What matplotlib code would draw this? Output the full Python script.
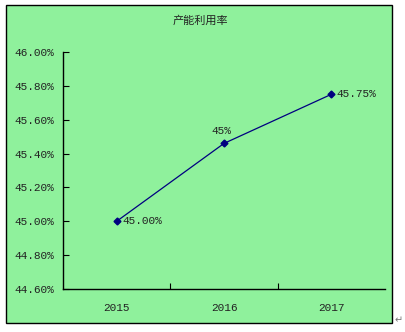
import matplotlib.pyplot as plt
from matplotlib.patches import Rectangle
from matplotlib.ticker import FuncFormatter

plt.rcParams['font.family'] = ['Liberation Mono', 'Noto Sans CJK SC', 'DejaVu Sans']

years = ['2015', '2016', '2017']
rates = [45.00, 45.46, 45.75]
labels = ['45.00%', '45%', '45.75%']
title = '产能利用率'

bg = '#8ff19c'
line_col = '#000080'
txt = '#222222'

fig = plt.figure(figsize=(4.06, 3.32), dpi=100)
fig.patch.set_facecolor('white')

# outer chart box, drawn on a background axes
bax = fig.add_axes([0, 0, 1, 1], zorder=-1)
bax.set_xlim(0, 406)
bax.set_ylim(332, 0)
bax.axis('off')
bax.add_patch(Rectangle((6, 5), 386, 318, facecolor=bg, edgecolor='black', lw=1.0))
# paragraph mark after the chart
bax.text(399, 320, '↵', ha='center', va='center', fontsize=7, color='#777777',
         family=['DejaVu Sans'])

ax = fig.add_axes([63 / 406, 1 - 289 / 332, 322 / 406, 237 / 332])
ax.patch.set_alpha(0)

x = range(len(years))
ax.plot(x, rates, color=line_col, lw=0.9, marker='D', ms=3.5, mfc=line_col, mec=line_col)

ax.set_xlim(-0.5, 2.5)
ax.set_ylim(44.6, 46.0)
ax.set_yticks([44.6, 44.8, 45.0, 45.2, 45.4, 45.6, 45.8, 46.0])
ax.yaxis.set_major_formatter(FuncFormatter(lambda v, p: f'{v:.2f}%'))
ax.set_xticks([0.5, 1.5])
ax.set_xticklabels([])
ax.set_xticks(list(x), minor=True)
ax.set_xticklabels(years, minor=True)
ax.tick_params(axis='x', which='minor', length=0, pad=10, labelsize=8, labelcolor=txt)
ax.tick_params(axis='x', which='major', direction='in', length=4)
ax.tick_params(axis='y', direction='in', length=4, labelsize=8, pad=6, labelcolor=txt)

for s in ['top', 'right']:
    ax.spines[s].set_visible(False)
for s in ['left', 'bottom']:
    ax.spines[s].set_linewidth(1.0)

# data labels
ax.annotate(labels[0], (0, rates[0]), xytext=(4, 0), textcoords='offset points',
            ha='left', va='center', fontsize=8, color=txt)
ax.annotate(labels[1], (1, rates[1]), xytext=(-2, 5), textcoords='offset points',
            ha='center', va='bottom', fontsize=8, color=txt)
ax.annotate(labels[2], (2, rates[2]), xytext=(4, 0), textcoords='offset points',
            ha='left', va='center', fontsize=8, color=txt)

bax.text(200, 21, title, ha='center', va='center', fontsize=8, color=txt,
         family=['Noto Sans CJK SC', 'DejaVu Sans'])

fig.savefig('out.png', dpi=100)
